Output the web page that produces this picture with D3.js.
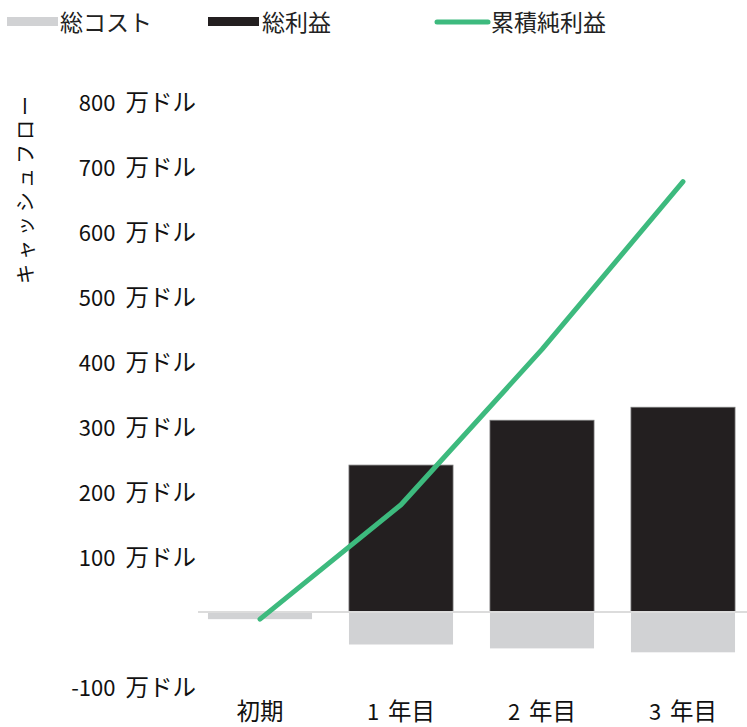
<!DOCTYPE html>
<html lang="ja">
<head>
<meta charset="UTF-8">
<title>キャッシュフロー</title>
<script src="https://cdn.jsdelivr.net/npm/d3@7"></script>
<style>
  body { margin: 0; background: #fff; }
  svg { display: block; font-family: "Noto Sans CJK JP", "Noto Sans", sans-serif; }
</style>
</head>
<body>
<script>
  // データ（単位：万ドル）
  const categories = ['初期', '1 年目', '2 年目', '3 年目'];
  const totalCost = [-11, -50, -56, -62];
  const totalProfit = [0, 226, 295, 315];
  const cumulativeNet = [-11, 165, 404, 662];
  const yTicks = [-100, 100, 200, 300, 400, 500, 600, 700, 800];
  const legendLabels = ['総コスト', '総利益', '累積純利益'];

  const width = 747, height = 727;
  const colors = { cost: '#d1d2d4', profit: '#231f20', line: '#3dba7e' };

  const svg = d3.select('body').append('svg')
    .attr('width', width)
    .attr('height', height);

  // 数字部分と日本語部分でサイズを変える
  function mixedText(sel, numSize, cjkSize, gap) {
    sel.each(function(d) {
      const t = d3.select(this);
      const s = String(d);
      const m = s.match(/^(-?\d+) (.*)$/);
      if (m) {
        t.append('tspan').attr('font-size', numSize).text(m[1]);
        t.append('tspan').attr('font-size', cjkSize).attr('dx', gap).text(m[2]);
      } else {
        t.append('tspan').attr('font-size', cjkSize).text(s);
      }
    });
  }

  // スケール
  const x = d3.scaleBand()
    .domain(categories)
    .range([189.5, 753.5])
    .paddingInner(0.262)
    .paddingOuter(0.131);

  const y = d3.scaleLinear()
    .domain([-100, 800])
    .range([677, 92]);

  // y軸ラベル（少し下にずらして描画）
  svg.append('g')
    .selectAll('text')
    .data(yTicks.map(d => d + ' 万ドル'))
    .join('text')
    .attr('x', 196)
    .attr('y', (d, i) => y(yTicks[i]) + 13)
    .attr('dy', '0.35em')
    .attr('text-anchor', 'end')
    .attr('fill', '#111')
    .call(mixedText, 22, 23.5, 10);

  svg.append('text')
    .attr('transform', `translate(26, ${188}) rotate(-90)`)
    .attr('text-anchor', 'middle')
    .attr('dy', '0.35em')
    .attr('font-size', 20)
    .attr('letter-spacing', 4)
    .attr('fill', '#111')
    .text('キャッシュフロー');

  // コスト（マイナス）
  svg.append('g')
    .selectAll('rect')
    .data(totalCost)
    .join('rect')
    .attr('x', (d, i) => x(categories[i]))
    .attr('y', y(0))
    .attr('width', x.bandwidth())
    .attr('height', d => y(d) - y(0))
    .attr('fill', colors.cost);

  // 利益
  svg.append('g')
    .selectAll('rect')
    .data(totalProfit)
    .join('rect')
    .attr('x', (d, i) => x(categories[i]))
    .attr('y', d => y(d))
    .attr('width', x.bandwidth())
    .attr('height', d => y(0) - y(d))
    .attr('fill', colors.profit)
    .attr('stroke', d => d > 0 ? '#777' : 'none')
    .attr('stroke-width', 0.8);

  // ゼロライン
  svg.append('line')
    .attr('x1', 198)
    .attr('x2', width)
    .attr('y1', y(0))
    .attr('y2', y(0))
    .attr('stroke', '#dcdcdc')
    .attr('stroke-width', 2);

  // 累積純利益
  const line = d3.line()
    .x((d, i) => x(categories[i]) + x.bandwidth() / 2)
    .y(d => y(d));

  svg.append('path')
    .datum(cumulativeNet)
    .attr('d', line)
    .attr('fill', 'none')
    .attr('stroke', colors.line)
    .attr('stroke-width', 5)
    .attr('stroke-linecap', 'round')
    .attr('stroke-linejoin', 'round');

  // x軸ラベル
  svg.append('g')
    .selectAll('text')
    .data(categories)
    .join('text')
    .attr('x', d => x(d) + x.bandwidth() / 2)
    .attr('y', 714)
    .attr('dy', '0.35em')
    .attr('text-anchor', 'middle')
    .attr('fill', '#111')
    .call(mixedText, 22, 23.5, 9);

  // 凡例
  const legend = svg.append('g');
  legend.append('rect').attr('x', 7).attr('y', 17).attr('width', 51).attr('height', 9).attr('fill', colors.cost);
  legend.append('rect').attr('x', 208).attr('y', 17).attr('width', 51).attr('height', 9).attr('fill', colors.profit);
  legend.append('line').attr('x1', 437).attr('x2', 488).attr('y1', 22).attr('y2', 22)
    .attr('stroke', colors.line).attr('stroke-width', 5).attr('stroke-linecap', 'round');
  legend.selectAll('text')
    .data(legendLabels)
    .join('text')
    .attr('x', (d, i) => [60, 262, 491][i])
    .attr('y', 23)
    .attr('dy', '0.35em')
    .attr('font-size', 23)
    .attr('fill', '#222')
    .text(d => d);
</script>
</body>
</html>
